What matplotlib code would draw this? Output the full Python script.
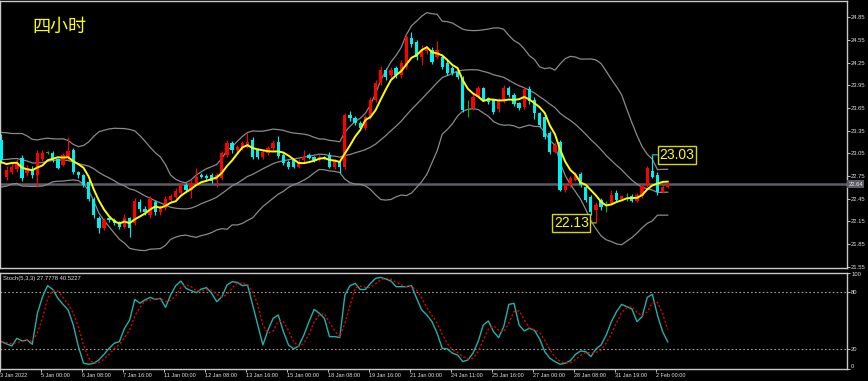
import numpy as np
import pandas as pd
import matplotlib
matplotlib.use('Agg')
import matplotlib.pyplot as plt
from matplotlib.transforms import blended_transform_factory

# ---------------- data ----------------
opens = [23.23, 22.74, 22.80, 22.84, 22.99, 22.79, 22.84, 22.76, 22.98, 23.06,
         23.06, 22.97, 22.90, 23.00, 23.09, 22.80, 22.76, 22.67, 22.45, 22.20,
         22.06, 22.19, 22.17, 22.14, 22.08, 22.19, 22.13, 22.40, 22.32, 22.23,
         22.40, 22.27, 22.33, 22.43, 22.47, 22.53, 22.63, 22.56, 22.66, 22.76,
         22.75, 22.76, 22.70, 22.72, 23.03, 23.19, 23.10, 23.12, 23.14, 23.23,
         23.09, 23.00, 23.05, 23.12, 23.20, 23.03, 22.94, 22.96, 22.87, 22.96,
         23.03, 23.00, 22.97, 23.00, 23.03, 22.87, 22.93, 22.87, 23.56, 23.52,
         23.45, 23.39, 23.53, 23.76, 23.98, 24.15, 24.08, 24.18, 24.08, 24.19,
         24.58, 24.52, 24.33, 24.40, 24.42, 24.32, 24.32, 24.25, 24.18, 24.12,
         24.05, 23.62, 23.65, 23.80, 23.91, 23.78, 23.75, 23.63, 23.75, 23.91,
         23.82, 23.71, 23.66, 23.90, 23.76, 23.58, 23.53, 23.32, 23.07, 23.20,
         22.57, 22.63, 22.70, 22.77, 22.60, 22.47, 22.30, 22.43, 22.39, 22.39,
         22.52, 22.44, 22.47, 22.49, 22.42, 22.48, 22.62, 22.82, 22.76, 22.54,
         22.61]
closes = [22.96, 22.83, 22.87, 22.92, 22.72, 22.86, 22.76, 23.05, 23.06, 23.06,
          22.96, 22.86, 23.03, 23.08, 22.80, 22.76, 22.63, 22.45, 22.23, 22.06,
          22.17, 22.17, 22.13, 22.08, 22.19, 22.06, 22.42, 22.32, 22.28, 22.45,
          22.27, 22.33, 22.45, 22.48, 22.55, 22.63, 22.57, 22.66, 22.74, 22.74,
          22.72, 22.69, 22.76, 23.05, 23.19, 23.09, 23.13, 23.18, 23.20, 23.00,
          23.00, 23.07, 23.12, 23.18, 23.01, 22.92, 22.87, 22.87, 22.94, 23.00,
          22.99, 22.96, 23.00, 22.99, 22.87, 22.95, 22.87, 23.56, 23.52, 23.45,
          23.39, 23.53, 23.76, 23.98, 24.15, 24.06, 24.15, 24.08, 24.25, 24.59,
          24.50, 24.32, 24.42, 24.44, 24.26, 24.42, 24.19, 24.11, 24.11, 24.06,
          23.62, 23.62, 23.80, 23.91, 23.76, 23.73, 23.60, 23.75, 23.91, 23.82,
          23.70, 23.65, 23.90, 23.74, 23.58, 23.43, 23.27, 23.07, 23.16, 22.57,
          22.63, 22.72, 22.76, 22.63, 22.43, 22.27, 22.37, 22.34, 22.39, 22.50,
          22.43, 22.48, 22.47, 22.42, 22.50, 22.62, 22.85, 22.74, 22.54, 22.61,
          22.64]
highs = [23.30, 22.88, 22.92, 22.97, 23.03, 22.90, 22.88, 23.09, 23.10, 23.08,
         23.08, 22.99, 23.06, 23.26, 23.12, 22.82, 22.78, 22.70, 22.47, 22.22,
         22.19, 22.22, 22.20, 22.16, 22.25, 22.21, 22.46, 22.45, 22.35, 22.48,
         22.43, 22.36, 22.48, 22.51, 22.59, 22.66, 22.66, 22.70, 22.85, 22.79,
         22.78, 22.79, 22.79, 23.08, 23.22, 23.21, 23.16, 23.21, 23.32, 23.26,
         23.12, 23.10, 23.15, 23.22, 23.28, 23.05, 22.96, 22.98, 22.97, 23.09,
         23.05, 23.02, 23.03, 23.02, 23.07, 22.98, 22.95, 23.58, 23.61, 23.55,
         23.48, 23.56, 23.79, 24.02, 24.20, 24.18, 24.19, 24.20, 24.28, 24.63,
         24.66, 24.55, 24.48, 24.47, 24.45, 24.54, 24.35, 24.28, 24.20, 24.14,
         24.07, 23.75, 23.83, 23.94, 23.93, 23.80, 23.77, 23.78, 23.95, 23.94,
         23.85, 23.73, 23.93, 23.94, 23.80, 23.60, 23.55, 23.34, 23.20, 23.22,
         22.66, 22.75, 22.80, 22.80, 22.62, 22.50, 22.40, 22.46, 22.42, 22.56,
         22.56, 22.50, 22.52, 22.51, 22.53, 22.65, 22.88, 23.03, 22.80, 22.64,
         22.66]
lows = [22.92, 22.70, 22.77, 22.80, 22.69, 22.75, 22.73, 22.60, 22.95, 23.04,
        22.94, 22.84, 22.88, 22.98, 22.78, 22.72, 22.60, 22.42, 22.20, 22.00,
        22.04, 22.14, 22.10, 22.05, 22.06, 21.94, 22.10, 22.28, 22.24, 22.20,
        22.24, 22.24, 22.30, 22.40, 22.45, 22.50, 22.54, 22.46, 22.63, 22.72,
        22.70, 22.66, 22.60, 22.70, 23.00, 23.06, 23.07, 23.10, 23.12, 22.97,
        22.97, 22.98, 23.03, 23.10, 22.99, 22.90, 22.84, 22.85, 22.85, 22.94,
        22.97, 22.94, 22.95, 22.97, 22.85, 22.84, 22.79, 22.84, 23.48, 23.42,
        23.36, 23.36, 23.50, 23.73, 23.95, 24.02, 24.05, 24.05, 24.05, 24.17,
        24.46, 24.29, 24.22, 24.36, 24.23, 24.30, 24.16, 24.08, 24.08, 24.03,
        23.60, 23.53, 23.62, 23.78, 23.74, 23.70, 23.57, 23.60, 23.72, 23.79,
        23.67, 23.62, 23.63, 23.70, 23.50, 23.40, 23.24, 23.04, 23.05, 22.55,
        22.54, 22.60, 22.68, 22.60, 22.40, 22.24, 22.13, 22.30, 22.28, 22.36,
        22.40, 22.42, 22.42, 22.40, 22.40, 22.46, 22.60, 22.72, 22.50, 22.52,
        22.59]
# closes before the first visible bar (only used to warm up the indicators)
prior_closes = [22.75, 22.70, 22.85, 23.05, 23.20, 23.25, 23.10, 22.90, 22.75, 22.70,
                22.80, 23.00, 23.20, 23.25, 23.15, 22.95, 22.80, 22.90, 23.05]

stoch_k = [28.0, 25.6, 23.5, 31.5, 28.7, 29.7, 25.2, 57.5, 74.8, 86.3,
           82.3, 73.1, 66.8, 60.9, 45.3, 22.8, 5.5, 4.4, 5.5, 8.9,
           14.8, 21.0, 26.3, 28.0, 41.9, 50.5, 72.0, 68.0, 71.4, 74.1,
           72.0, 73.1, 63.7, 76.6, 86.3, 91.1, 83.5, 81.1, 79.0, 82.8,
           84.2, 78.3, 69.6, 74.8, 87.0, 90.4, 89.7, 86.3, 87.0, 66.1,
           45.3, 24.5, 40.1, 52.3, 55.7, 38.4, 24.5, 20.4, 23.5, 34.9,
           48.8, 61.6, 57.5, 52.3, 33.2, 33.2, 32.2, 76.6, 86.3, 88.7,
           82.3, 82.3, 88.7, 93.9, 94.9, 93.2, 91.1, 85.2, 85.2, 85.2,
           86.3, 73.1, 60.9, 55.7, 48.8, 36.7, 21.0, 20.4, 15.9, 14.1,
           7.2, 8.9, 15.9, 28.0, 45.3, 49.5, 38.4, 32.2, 43.6, 66.8,
           67.9, 45.3, 39.1, 41.9, 39.8, 30.8, 17.6, 10.6, 7.2, 4.4,
           5.5, 8.2, 14.8, 18.3, 17.6, 12.4, 20.4, 24.5, 34.9, 48.8,
           59.2, 66.8, 64.4, 62.0, 48.8, 54.0, 74.1, 77.3, 55.4, 38.4,
           27.78]

date_labels = ['3 Jan 2022', '5 Jan 00:00', '6 Jan 08:00', '7 Jan 16:00', '11 Jan 00:00',
               '12 Jan 08:00', '13 Jan 16:00', '15 Jan 00:00', '18 Jan 08:00', '19 Jan 16:00',
               '21 Jan 00:00', '24 Jan 11:00', '25 Jan 16:00', '27 Jan 00:00', '28 Jan 08:00',
               '31 Jan 19:00', '2 Feb 00:00']
label_step = 8
price_ticks = [24.85, 24.55, 24.25, 23.95, 23.65, 23.35, 23.05, 22.75, 22.45, 22.15, 21.85, 21.55]
stoch_levels = [80, 20]
stoch_ticks = [100, 80, 20, 0]
title_text = '四小时'
stoch_legend = 'Stoch(5,3,3) 27.7778 40.5227'
hi_bar, hi_value = 127, 23.03
lo_bar, lo_value = 116, 22.13
current_price = 22.64

# ---------------- indicators ----------------
n = len(closes)
allc = pd.Series(prior_closes + closes)
mid = allc.rolling(20).mean().values[-n:]
sd = allc.rolling(20).std(ddof=0).values[-n:]
upper, lower = mid + 2 * sd, mid - 2 * sd
ma5 = allc.rolling(5).mean().values[-n:]
stoch_d = pd.Series(stoch_k).rolling(3, min_periods=1).mean().values

# ---------------- figure ----------------
W, H = 868, 381
fig = plt.figure(figsize=(W / 100, H / 100), dpi=100, facecolor='black')


def rect(x0, y0, x1, y1):
    return [x0 / W, 1 - y1 / H, (x1 - x0) / W, (y1 - y0) / H]


ax = fig.add_axes(rect(0, 1, 847, 268))
ax2 = fig.add_axes(rect(0, 272.5, 847, 368.5))
xl = (-0.29, 164.98)
for a in (ax, ax2):
    a.set_facecolor('black')
    a.set_xlim(*xl)
    for s in a.spines.values():
        s.set_color('#c8c8c8')
        s.set_linewidth(1)

x = np.arange(n)
o = np.array(opens); c = np.array(closes); h = np.array(highs); l = np.array(lows)
cols = np.where(c > o, '#ff0000', np.where(c < o, '#00f0f0', '#00c000'))

# Bollinger bands and MA
ax.plot(x, upper, color='#8a8a8a', lw=0.9)
ax.plot(x, mid, color='#8a8a8a', lw=0.9)
ax.plot(x, lower, color='#8a8a8a', lw=0.9)
ax.axhline(current_price, color='#5c5c66', lw=1.8, zorder=1)

ax.vlines(x, l, h, colors=cols, lw=0.8, zorder=2)
body = np.maximum(np.abs(c - o), 0.006)
ax.bar(x, body, bottom=np.minimum(o, c), width=0.64, color=cols, zorder=3, linewidth=0)
ax.plot(x, ma5, color='#ffff00', lw=1.4, zorder=4)

ax.set_ylim(21.533, 25.065)
ax.set_xticks([])
ax.yaxis.tick_right()
ax.set_yticks(price_ticks)
ax.set_yticklabels([f'{v:.2f}' for v in price_ticks])
ax.tick_params(axis='y', colors='#e0e0e0', labelsize=4.2, length=2, width=0.6, pad=1)
for t in ax.get_yticklabels():
    t.set_family('Liberation Sans')

tr = blended_transform_factory(ax.transAxes, ax.transData)
ax.text(1.0015, current_price, f'{current_price:.2f}', transform=tr, fontsize=4.2,
        family='Liberation Sans', color='#e8e8e8', va='center', ha='left',
        bbox=dict(boxstyle='square,pad=0.25', fc='#5c5c66', ec='none'), clip_on=False)

fig.text(32 / W, 1 - 27 / H, title_text, color='#ffff00', fontsize=13,
         family=['Noto Sans CJK SC', 'DejaVu Sans'], va='center', ha='left')

ax.annotate(f'{hi_value:.2f}', xy=(hi_bar, hi_value), xytext=(hi_bar + 1.4, hi_value),
            textcoords='data', color='#ffff00', fontsize=10, family='Liberation Sans',
            va='center', ha='left',
            bbox=dict(boxstyle='square,pad=0.12', fc='black', ec='#d8d800', lw=1),
            arrowprops=dict(arrowstyle='-', color='#00c8c8', lw=0.9, shrinkA=0, shrinkB=0), zorder=6)
ax.annotate(f'{lo_value:.2f}', xy=(lo_bar, lo_value), xytext=(lo_bar - 1.4, lo_value),
            textcoords='data', color='#ffff00', fontsize=10, family='Liberation Sans',
            va='center', ha='right',
            bbox=dict(boxstyle='square,pad=0.12', fc='black', ec='#d8d800', lw=1),
            arrowprops=dict(arrowstyle='-', color='#b4b400', lw=0.9, shrinkA=0, shrinkB=0), zorder=6)

# ---------------- stochastic ----------------
for lv in stoch_levels:
    ax2.axhline(lv, color='#a0a0a0', lw=0.8, ls=(0, (1.5, 2)))
ax2.plot(x, stoch_k, color='#20b2aa', lw=1.0)
ax2.plot(x, stoch_d, color='#e00000', lw=1.0, ls=(0, (1.5, 1.5)))
ax2.set_ylim(0, 100)
ax2.yaxis.tick_right()
ax2.set_yticks(stoch_ticks)
ax2.set_yticklabels([str(v) for v in stoch_ticks])
ax2.tick_params(axis='y', colors='#e0e0e0', labelsize=4.2, length=2, width=0.6, pad=1)
for t, v in zip(ax2.get_yticklabels(), stoch_ticks):
    t.set_family('Liberation Sans')
    if v == 100:
        t.set_va('top')
    elif v == 0:
        t.set_va('bottom')
ax2.set_xticks([i * label_step - 0.3 for i in range(len(date_labels))])
ax2.set_xticklabels(date_labels, ha='left')
ax2.tick_params(axis='x', colors='#e0e0e0', labelsize=4.0, length=2, width=0.6, pad=1.5)
for t in ax2.get_xticklabels():
    t.set_family('Liberation Sans')
ax2.text(0.004, 0.96, stoch_legend, transform=ax2.transAxes,
         color='#e0e0e0', fontsize=4.2, family='Liberation Sans', va='top', ha='left')

fig.savefig('out.png', dpi=100, facecolor='black')
